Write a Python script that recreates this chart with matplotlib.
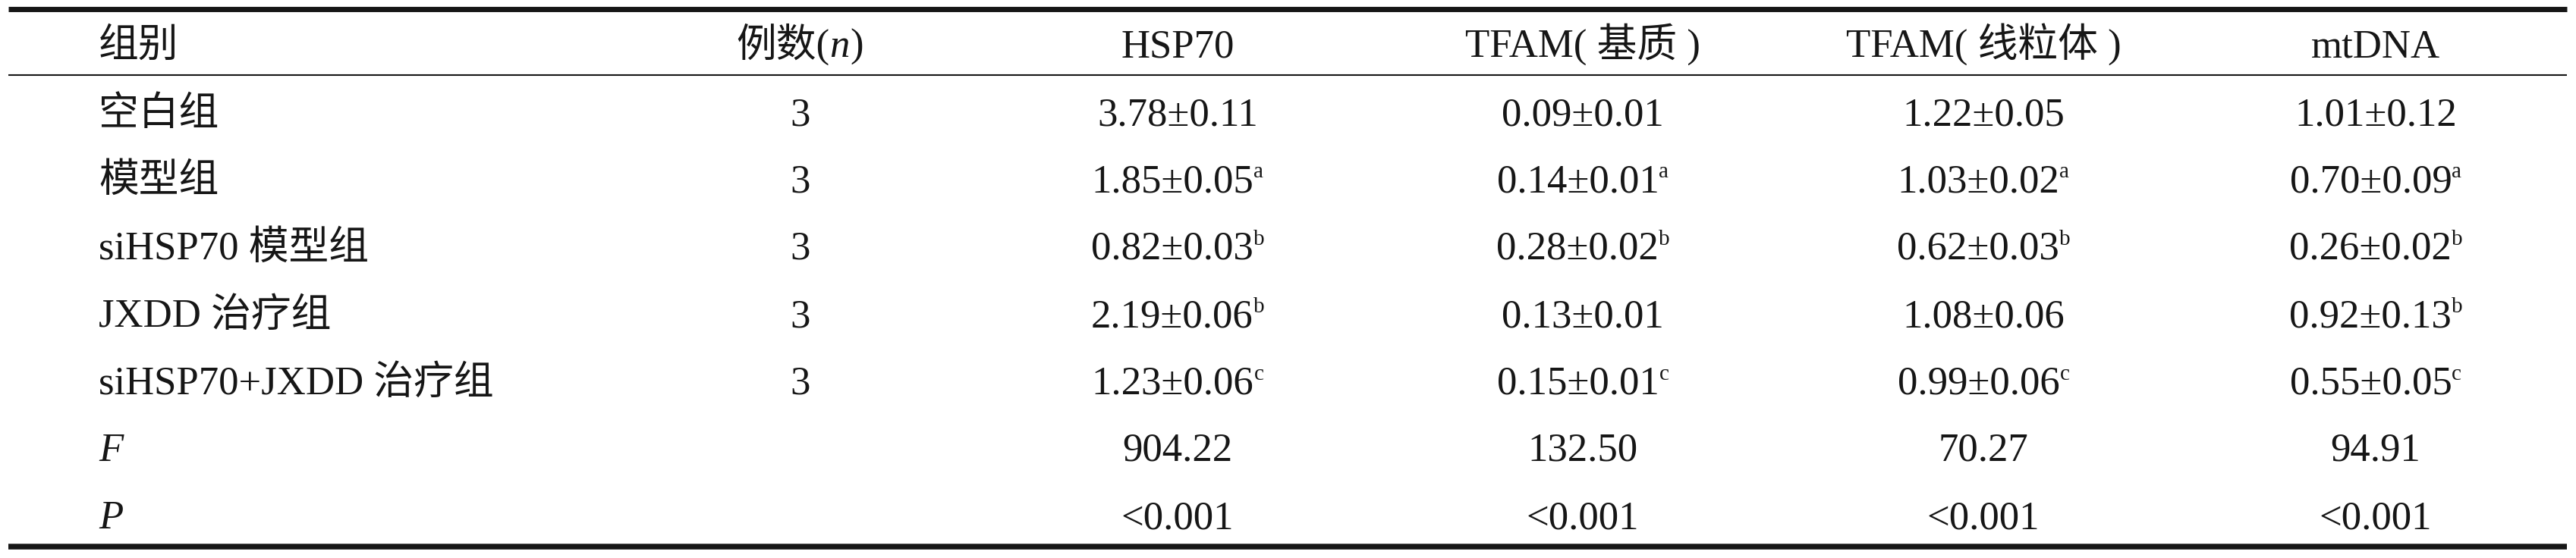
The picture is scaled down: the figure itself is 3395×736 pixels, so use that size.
import matplotlib
matplotlib.use('Agg')
import matplotlib.pyplot as plt

# table content
header = ['组别', '例数', 'HSP70', 'TFAM( 基质 )', 'TFAM( 线粒体 )', 'mtDNA']
groups = ['空白组', '模型组', 'siHSP70 模型组', 'JXDD 治疗组', 'siHSP70+JXDD 治疗组']
n_cases = [3, 3, 3, 3, 3]

hsp70_mean = [3.78, 1.85, 0.82, 2.19, 1.23]
hsp70_sd = [0.11, 0.05, 0.03, 0.06, 0.06]
hsp70_sig = ['', 'a', 'b', 'b', 'c']

tfam_matrix_mean = [0.09, 0.14, 0.28, 0.13, 0.15]
tfam_matrix_sd = [0.01, 0.01, 0.02, 0.01, 0.01]
tfam_matrix_sig = ['', 'a', 'b', '', 'c']

tfam_mito_mean = [1.22, 1.03, 0.62, 1.08, 0.99]
tfam_mito_sd = [0.05, 0.02, 0.03, 0.06, 0.06]
tfam_mito_sig = ['', 'a', 'b', '', 'c']

mtdna_mean = [1.01, 0.70, 0.26, 0.92, 0.55]
mtdna_sd = [0.12, 0.09, 0.02, 0.13, 0.05]
mtdna_sig = ['', 'a', 'b', 'b', 'c']

f_values = ['904.22', '132.50', '70.27', '94.91']
p_values = ['<0.001', '<0.001', '<0.001', '<0.001']

W, H = 3395, 736
fig = plt.figure(figsize=(W / 100, H / 100), dpi=100)
ax = fig.add_axes([0, 0, 1, 1])
ax.set_xlim(0, W)
ax.set_ylim(H, 0)
ax.axis('off')

FAM = ['Liberation Serif', 'Noto Sans CJK SC']
INK = '#161616'
FS = 38
SUP = 21

col_x = [130, 1054, 1552, 2086, 2614, 3131]
row_base = [75, 165, 253, 342, 431, 520, 608, 697]

renderer = fig.canvas.get_renderer()


def put(x, y, parts, ha='center'):
    # parts: list of (text, size, style, rise)
    texts = []
    for s, size, style, rise in parts:
        t = ax.text(0, y - rise, s, fontsize=size, family=FAM, style=style,
                    color=INK, ha='left', va='baseline')
        texts.append(t)
    widths = [t.get_window_extent(renderer).width for t in texts]
    total = sum(widths)
    start = x - total / 2 if ha == 'center' else x
    for t, w in zip(texts, widths):
        t.set_x(start)
        start += w


def cell(mean, sd, sig):
    parts = [('%.2f±%.2f' % (mean, sd), FS, 'normal', 0)]
    if sig:
        parts.append((sig, SUP, 'normal', 19))
    return parts


# rules
ax.plot([11, 3383], [11.5, 11.5], color=INK, lw=5.0, solid_capstyle='butt')
ax.plot([11, 3383], [99, 99], color=INK, lw=1.5, solid_capstyle='butt')
ax.plot([11, 3383], [721, 721], color=INK, lw=5.4, solid_capstyle='butt')

# header
put(col_x[0], row_base[0], [(header[0], FS, 'normal', 0)], ha='left')
put(col_x[1], row_base[0], [(header[1] + '(', FS, 'normal', 0),
                            ('n', FS, 'italic', 0), (')', FS, 'normal', 0)])
for j in range(2, 6):
    put(col_x[j], row_base[0], [(header[j], FS, 'normal', 0)])

# group rows
for i, g in enumerate(groups):
    y = row_base[i + 1]
    put(col_x[0], y, [(g, FS, 'normal', 0)], ha='left')
    put(col_x[1], y, [(str(n_cases[i]), FS, 'normal', 0)])
    put(col_x[2], y, cell(hsp70_mean[i], hsp70_sd[i], hsp70_sig[i]))
    put(col_x[3], y, cell(tfam_matrix_mean[i], tfam_matrix_sd[i], tfam_matrix_sig[i]))
    put(col_x[4], y, cell(tfam_mito_mean[i], tfam_mito_sd[i], tfam_mito_sig[i]))
    put(col_x[5], y, cell(mtdna_mean[i], mtdna_sd[i], mtdna_sig[i]))

# statistics rows
put(col_x[0], row_base[6], [('F', FS, 'italic', 0)], ha='left')
put(col_x[0], row_base[7], [('P', FS, 'italic', 0)], ha='left')
for j in range(4):
    put(col_x[j + 2], row_base[6], [(f_values[j], FS, 'normal', 0)])
    put(col_x[j + 2], row_base[7], [(p_values[j], FS, 'normal', 0)])

fig.savefig('out.png', dpi=100)
